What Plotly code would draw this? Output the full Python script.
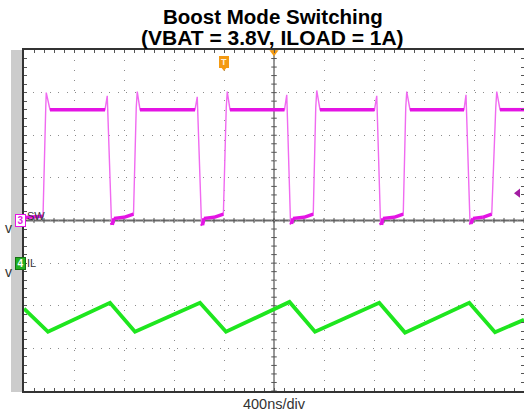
import plotly.graph_objects as go

# ---------------- data ----------------
# time axis: 400 ns/div, 10 divisions, trigger at centre (0 ns)
TIME_RANGE_NS = [-2000, 2000]
NS_PER_DIV = 400

# Channel 3: SW node voltage (V), 2 V/div, ground at centre line
SW_V_PER_DIV = 2.0
SW_T_NS = [-2000, -1848, -1826, -1822, -1792, -1352, -1334, -1320, -1300, -1294, -1280, -1200, -1124,
           -1102, -1094, -1072, -632, -614, -596, -580, -572, -560, -480, -405,
           -382, -374, -352, 84, 102, 116, 132, 140, 152, 240, 314,
           334, 342, 368, 804, 822, 836, 852, 860, 872, 960, 1034,
           1054, 1062, 1088, 1520, 1536, 1554, 1568, 1576, 1592, 1670, 1742,
           1774, 1782, 1808, 2000]
SW_V = [0.14, 0.2, 5.3, 6.0, 5.2, 5.2, 5.85, 3.0, -0.1, -0.2, 0.1, 0.15, 0.3,
        5.3, 6.05, 5.2, 5.2, 5.8, 3.0, -0.15, -0.22, 0.1, 0.15, 0.3,
        5.3, 6.05, 5.2, 5.2, 5.9, 3.0, -0.1, -0.15, 0.1, 0.15, 0.3,
        5.3, 6.1, 5.2, 5.2, 5.85, 3.0, -0.1, -0.2, 0.1, 0.15, 0.3,
        5.3, 6.05, 5.2, 5.2, 5.9, 3.0, -0.1, -0.15, 0.1, 0.15, 0.3,
        5.3, 6.05, 5.2, 5.2]

# Channel 4: inductor current (A, as displayed by the inverted probe), 1 A/div, ground 1 div below centre
IL_A_PER_DIV = 1.0
IL_POSITION_DIV = -1.0
IL_T_NS = [-2000, -1808, -1312, -1112, -592, -384, 124, 328, 842, 1048, 1562, 1768, 2000]
IL_A = [-1.07, -1.61, -0.93, -1.61, -0.93, -1.61, -0.91, -1.61, -0.93, -1.63, -0.93, -1.62, -1.33]

TRIGGER_T_NS = -400          # "T" marker
TRIGGER_LEVEL_V = 1.28       # trigger level arrow on right edge

TITLE_LINES = ["Boost Mode Switching", "(VBAT = 3.8V, ILOAD = 1A)"]
X_LABEL = "400ns/div"

# ---------------- styling ----------------
MAG = "#e414e4"
MAG_LIGHT = "#f06af0"
GREEN = "#1ee61e"
ORANGE = "#f49a12"
FONT = "Liberation Sans, Arial, sans-serif"

sw_div = [v / SW_V_PER_DIV for v in SW_V]
il_div = [IL_POSITION_DIV + a / IL_A_PER_DIV for a in IL_A]

# flat (plateau) segments drawn thicker, like the noisy scope trace
flat_x, flat_y = [], []
for i in range(len(SW_T_NS) - 1):
    if abs(SW_V[i + 1] - SW_V[i]) < 0.5:
        flat_x += [SW_T_NS[i], SW_T_NS[i + 1], None]
        flat_y += [sw_div[i], sw_div[i + 1], None]

fig = go.Figure()
fig.add_trace(go.Scatter(x=IL_T_NS, y=il_div, mode="lines",
                         line=dict(color=GREEN, width=3.8), hoverinfo="skip"))
fig.add_trace(go.Scatter(x=SW_T_NS, y=sw_div, mode="lines",
                         line=dict(color=MAG_LIGHT, width=1.4), hoverinfo="skip"))
fig.add_trace(go.Scatter(x=flat_x, y=flat_y, mode="lines",
                         line=dict(color=MAG, width=3.5), hoverinfo="skip"))

# markers: trigger level arrow, trigger position triangle at top
fig.add_trace(go.Scatter(x=[1952], y=[TRIGGER_LEVEL_V / SW_V_PER_DIV], mode="markers",
                         marker=dict(symbol="triangle-left", size=8, color="#a21ca2"),
                         cliponaxis=False, hoverinfo="skip"))
fig.add_trace(go.Scatter(x=[0], y=[3.95], mode="markers",
                         marker=dict(symbol="triangle-down", size=8, color=ORANGE),
                         cliponaxis=False, hoverinfo="skip"))
fig.add_trace(go.Scatter(x=[TRIGGER_T_NS], y=[3.58], mode="markers",
                         marker=dict(symbol="triangle-down", size=6, color=ORANGE),
                         cliponaxis=False, hoverinfo="skip"))

shapes = []
# grey strip left of the graticule
shapes.append(dict(type="rect", xref="paper", yref="paper", x0=-0.026, x1=0, y0=-0.003, y1=1,
                   fillcolor="#cccccc", line=dict(width=0), layer="below"))
# centre crosshair
shapes.append(dict(type="line", xref="x", yref="y", x0=-2000, x1=2000, y0=0, y1=0,
                   line=dict(color="#6a6a6a", width=2), layer="below"))
shapes.append(dict(type="line", xref="x", yref="y", x0=0, x1=0, y0=-4, y1=4,
                   line=dict(color="#333333", width=1), layer="below"))
for k in range(-25, 26):
    shapes.append(dict(type="line", xref="x", yref="y", x0=k * 80, x1=k * 80, y0=-0.06, y1=0.06,
                       line=dict(color="#555555", width=1), layer="below"))
for k in range(-20, 21):
    shapes.append(dict(type="line", xref="x", yref="y", x0=-22, x1=22, y0=k * 0.2, y1=k * 0.2,
                       line=dict(color="#555555", width=1), layer="below"))

annotations = [
    # title (two lines placed individually for tight line spacing)
    dict(x=0.497, xref="paper", y=16, yref="paper", yanchor="middle", showarrow=False,
         text=f"<b>{TITLE_LINES[0]}</b>", font=dict(family=FONT, size=20.5, color="black")),
    dict(x=0.497, xref="paper", y=37, yref="paper", yanchor="middle", showarrow=False,
         text=f"<b>{TITLE_LINES[1]}</b>", font=dict(family=FONT, size=21, color="black")),
    # channel markers
    dict(x=-0.018, xref="paper", y=0, yref="y", text="<b>3</b>", showarrow=False,
         font=dict(family=FONT, size=10, color=MAG), bgcolor="white",
         bordercolor=MAG, borderwidth=1, borderpad=0, width=9, height=11),
    dict(x=-1990, y=0.1, text="SW", showarrow=False, xanchor="left",
         font=dict(family=FONT, size=11, color="#333333")),
    dict(x=-0.018, xref="paper", y=IL_POSITION_DIV, yref="y", text="<b>4</b>", showarrow=False,
         font=dict(family=FONT, size=10, color="white"), bgcolor="#22b022",
         bordercolor="#127012", borderwidth=1, borderpad=0, width=9, height=11),
    dict(x=-1990, y=IL_POSITION_DIV, text="IL", showarrow=False, xanchor="left",
         font=dict(family=FONT, size=11, color="#333333")),
    # cut-off labels at far left
    dict(x=-0.042, xref="paper", y=-0.17, yref="y", text="v", showarrow=False,
         font=dict(family=FONT, size=14, color="#333333")),
    dict(x=-0.042, xref="paper", y=-1.2, yref="y", text="v", showarrow=False,
         font=dict(family=FONT, size=14, color="#333333")),
    # trigger "T"
    dict(x=TRIGGER_T_NS, y=3.73, text="<b>T</b>", showarrow=False,
         font=dict(family=FONT, size=9, color="#fff3dd"), bgcolor=ORANGE,
         bordercolor=ORANGE, borderwidth=1, borderpad=0, width=8, height=10),
]

# convert the title pixel rows (from the top of the figure) to paper coordinates
PLOT_TOP, PLOT_H = 50, 341
for a in annotations[:2]:
    a["y"] = 1 + (PLOT_TOP - a["y"]) / PLOT_H

grid = dict(showgrid=True, gridcolor="#8c8c8c", gridwidth=1, zeroline=False,
            showline=True, linecolor="#333333", linewidth=1.5, mirror="ticks",
            ticks="inside", ticklen=3, tickcolor="#555555", showticklabels=False)

fig.update_layout(
    width=524, height=417,
    margin=dict(l=24, r=0, t=PLOT_TOP, b=417 - PLOT_TOP - PLOT_H, pad=0, autoexpand=False),
    paper_bgcolor="white", plot_bgcolor="white",
    showlegend=False,
    xaxis=dict(range=TIME_RANGE_NS, dtick=NS_PER_DIV, tick0=0, griddash="1px,9px",
               minor=dict(dtick=NS_PER_DIV / 5, ticks="inside", ticklen=3, tickcolor="#555555",
                          showgrid=False),
               title=dict(text=X_LABEL, standoff=7,
                          font=dict(family=FONT, size=14.5, color="#333333")),
               **grid),
    yaxis=dict(range=[-4, 4], dtick=1, tick0=0, griddash="1px,7.5px",
               minor=dict(dtick=0.2, ticks="inside", ticklen=3, tickcolor="#555555",
                          showgrid=False),
               **grid),
    shapes=shapes,
    annotations=annotations,
)

fig.write_html("out.html", config={"displayModeBar": False},
               post_script="document.body.style.margin='0';")
